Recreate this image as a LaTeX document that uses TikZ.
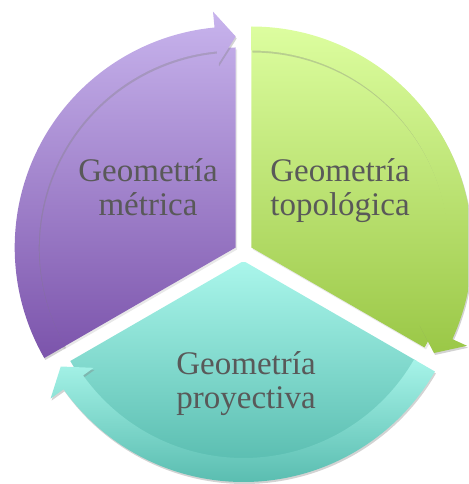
\documentclass[tikz,border=0pt]{standalone}
\usepackage{fontspec}
\setmainfont{Liberation Serif}
\usetikzlibrary{calc, shadows}
\definecolor{PurpleTop}{RGB}{200,180,237}
\definecolor{PurpleBottom}{RGB}{122,82,170}
\definecolor{GreenTop}{RGB}{221,254,160}
\definecolor{GreenBottom}{RGB}{154,199,70}
\definecolor{CyanTop}{RGB}{170,246,235}
\definecolor{CyanBottom}{RGB}{80,182,169}
\definecolor{LabelGrey}{RGB}{89,89,89}

\begin{document}
\begin{tikzpicture}[
  x=1pt, y=1pt,
  wedge/.style={drop shadow={opacity=0.18, shadow xshift=1.5pt, shadow yshift=-2pt}},
  arrowband/.style={drop shadow={opacity=0.35, shadow xshift=1pt, shadow yshift=-2pt}},
  purpleshade/.style={path picture={\shade[top color=PurpleTop, bottom color=PurpleBottom] (0,119) rectangle (468,472);}},
  greenshade/.style={path picture={\shade[top color=GreenTop, bottom color=GreenBottom] (0,129) rectangle (468,460);}},
  cyanshade/.style={path picture={\shade[top color=CyanTop, bottom color=CyanBottom] (0,0) rectangle (468,221);}},
  cyanbandshade/.style={path picture={\shade[top color=CyanTop, bottom color=CyanBottom!90!CyanTop] (0,0) rectangle (468,130);}},
  seglabel/.style={font=\fontsize{33}{34}\selectfont, text=LabelGrey, align=center, inner sep=0pt}
]
\useasboundingbox (0,0) rectangle (468,484);

% Purple segment: Geometria metrica
\coordinate (pc) at (235.7,236.5);
\path[wedge, purpleshade] (pc) -- ++(210:200) arc[start angle=210, end angle=90, radius=200] -- cycle;
\path[arrowband, purpleshade] ($(pc)+(210:197)$) -- ($(pc)+(210:221)$)
  arc[start angle=210, end angle=95.5, radius=221]
  -- ($(pc)+(95.5:237)$) -- ($(pc)+(90:211)$) -- ($(pc)+(95.5:184)$) -- ($(pc)+(95.5:197)$)
  arc[start angle=95.5, end angle=210, radius=197] -- cycle;
\node[seglabel] (metrica) at (148,297) {Geometría\\métrica};

% Green segment: Geometria topologica
\coordinate (gc) at (251.3,236.5);
\path[wedge, greenshade] (gc) -- ++(90:200) arc[start angle=90, end angle=-30, radius=200] -- cycle;
\path[arrowband, greenshade] ($(gc)+(90:197)$) -- ($(gc)+(90:221)$)
  arc[start angle=90, end angle=-24.5, radius=221]
  -- ($(gc)+(-24.5:237)$) -- ($(gc)+(-30:211)$) -- ($(gc)+(-24.5:184)$) -- ($(gc)+(-24.5:197)$)
  arc[start angle=-24.5, end angle=90, radius=197] -- cycle;
\node[seglabel] (topologica) at (340,293) {Geometría\\topológica};

% Cyan segment: Geometria proyectiva
\coordinate (cc) at (243.5,223);
\path[wedge, cyanshade] (cc) -- ++(330:200) arc[start angle=330, end angle=210, radius=200] -- cycle;
\path[arrowband, cyanbandshade] ($(cc)+(330:197)$) -- ($(cc)+(330:221)$)
  arc[start angle=330, end angle=215.5, radius=221]
  -- ($(cc)+(215.5:237)$) -- ($(cc)+(210:211)$) -- ($(cc)+(215.5:184)$) -- ($(cc)+(215.5:197)$)
  arc[start angle=215.5, end angle=330, radius=197] -- cycle;
\node[seglabel] (proyectiva) at (246,100) {Geometría\\proyectiva};
\end{tikzpicture}
\end{document}
